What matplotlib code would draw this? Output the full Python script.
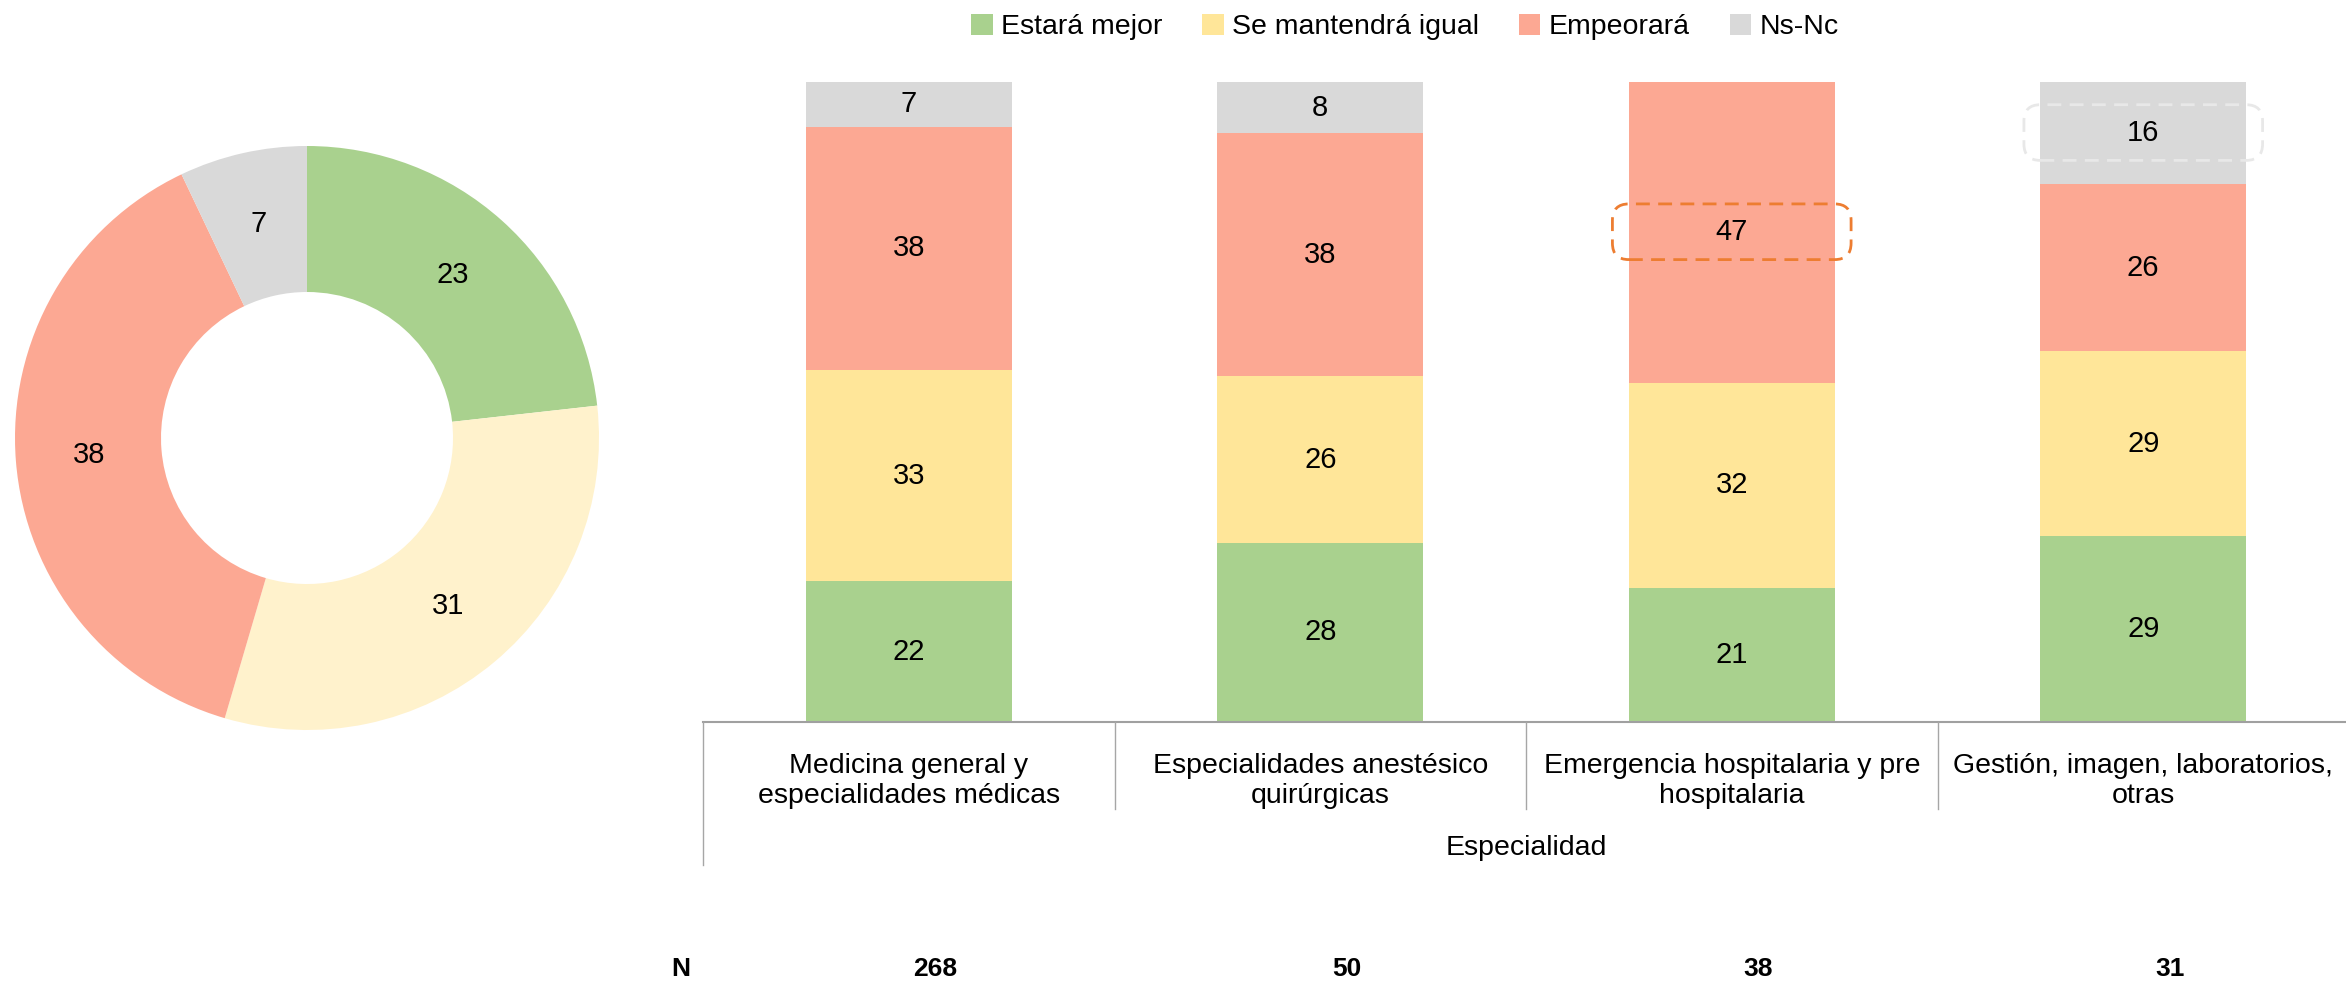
'''Expectativas por especialidad: donut global + barras apiladas.'''

import matplotlib
matplotlib.use('Agg')
import matplotlib.pyplot as plt
from matplotlib.patches import Patch, FancyBboxPatch
import matplotlib.transforms as mtransforms

plt.rcParams['font.family'] = ['Liberation Sans', 'DejaVu Sans']

# Data
series = ['Estará mejor', 'Se mantendrá igual', 'Empeorará', 'Ns-Nc']
total = [23, 31, 38, 7]

categories = ['Medicina general y\nespecialidades médicas',
              'Especialidades anestésico\nquirúrgicas',
              'Emergencia hospitalaria y pre\nhospitalaria',
              'Gestión, imagen, laboratorios,\notras']
mejor = [22, 28, 21, 29]
igual = [33, 26, 32, 29]
empeora = [38, 38, 47, 26]
nsnc = [7, 8, 0, 16]
n_sizes = [268, 50, 38, 31]

# Colours
bar_colors = ['#A9D18E', '#FFE699', '#FCA893', '#D9D9D9']
pie_colors = ['#A9D18E', '#FFF2CC', '#FCA893', '#D9D9D9']

W, H = 2346, 983
fig = plt.figure(figsize=(W / 100, H / 100), dpi=100)

# Donut
cx, cy, r = 307, 438, 292
ax_pie = fig.add_axes([(cx - r) / W, (H - cy - r) / H, 2 * r / W, 2 * r / H])
s = sum(total)
ax_pie.pie(total, colors=pie_colors, startangle=90, counterclock=False, radius=1,
           wedgeprops={'width': 0.5, 'linewidth': 0},
           autopct=lambda p: f'{round(p * s / 100):d}', pctdistance=0.75,
           textprops={'fontsize': 21})
ax_pie.set_xlim(-1, 1)
ax_pie.set_ylim(-1, 1)
ax_pie.set_aspect('equal')

# Stacked bars
left, right, base, top = 703, 2349, 722, 82
ax = fig.add_axes([left / W, (H - base) / H, (right - left) / W, (base - top) / H])
x = list(range(len(categories)))
bottom = [0] * len(x)
for vals, col in zip([mejor, igual, empeora, nsnc], bar_colors):
    ax.bar(x, vals, bottom=bottom, width=0.5, color=col, linewidth=0)
    for xi, v, b in zip(x, vals, bottom):
        if v > 0:
            ax.text(xi, b + v / 2, f'{v}', ha='center', va='center', fontsize=21)
    bottom = [b + v for b, v in zip(bottom, vals)]

ax.set_xlim(-0.5, 3.5)
ax.set_ylim(0, 100)
ax.axis('off')
ax.axhline(0, color='#A0A0A0', linewidth=1.5, clip_on=False)

# Category separators and labels
trans = mtransforms.blended_transform_factory(ax.transData, ax.transAxes)
for i, xs in enumerate([-0.5, 0.5, 1.5, 2.5]):
    y_end = -0.223 if i == 0 else -0.136
    ax.plot([xs, xs], [0, y_end], color='#A6A6A6', linewidth=1, transform=trans, clip_on=False)
for xi, cat in zip(x, categories):
    ax.text(xi, -0.092, cat, ha='center', va='center', fontsize=20.5,
            transform=trans, linespacing=1.2)
ax.text(1.5, -0.197, 'Especialidad', ha='center', va='center', fontsize=20.5, transform=trans)

# N row
ax.text(-0.553, -0.386, 'N', ha='center', va='center', fontsize=19, fontweight='bold', transform=trans)
for xi, n in zip(x, n_sizes):
    ax.text(xi + 0.065, -0.386, f'{n}', ha='center', va='center', fontsize=19,
            fontweight='bold', transform=trans)

# Highlight boxes (dashed, rounded)
aspect = (411 / 6.4)
for xc, yc, col in [(2, 76.6, '#ED7D31'), (3, 92.1, '#E8E8E8')]:
    bw, bh = 0.58, 8.7
    box = FancyBboxPatch((xc - bw / 2, yc - bh / 2), bw, bh,
                         boxstyle='round,pad=0,rounding_size=0.04',
                         mutation_aspect=aspect, fill=False, edgecolor=col,
                         linewidth=2, linestyle=(0, (5, 3)), clip_on=False, zorder=5)
    ax.add_patch(box)

# Legend
handles = [Patch(facecolor=c, edgecolor='none') for c in bar_colors]
fig.legend(handles, series, loc='center', bbox_to_anchor=(1405 / W, 1 - 27 / H),
           ncol=4, frameon=False, fontsize=20.5, handlelength=0.75, handleheight=0.75,
           handletextpad=0.3, columnspacing=1.4)

fig.savefig('out.png', dpi=100)
